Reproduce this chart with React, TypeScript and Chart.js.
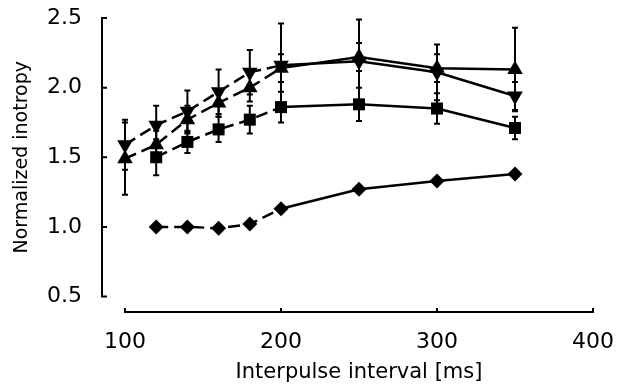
import React, { useEffect, useRef } from "react";
import { Chart, registerables } from "chart.js";

Chart.register(...registerables);

// Interpulse intervals (ms)
const intervals = [100, 120, 140, 160, 180, 200, 250, 300, 350];
const shortIntervals = [120, 140, 160, 180, 200, 250, 300, 350];

// Normalized inotropy, one array per marker type
const upTriangle = [1.49, 1.59, 1.77, 1.89, 2.0, 2.14, 2.22, 2.14, 2.13];
const upTriangleErr = [0.26, 0.1, 0.1, 0.1, 0.1, 0.1, 0.1, 0.1, 0.3];

const downTriangle = [1.59, 1.73, 1.83, 1.97, 2.11, 2.16, 2.19, 2.11, 1.94];
const downTriangleErr = [0.18, 0.14, 0.15, 0.16, 0.16, 0.3, 0.3, 0.2, 0.1];

const square = [1.5, 1.61, 1.7, 1.77, 1.86, 1.88, 1.85, 1.71];
const squareErr = [0.13, 0.08, 0.09, 0.1, 0.11, 0.12, 0.11, 0.08];

const diamond = [1.0, 1.0, 0.99, 1.02, 1.13, 1.27, 1.33, 1.38];

const xTicks = [100, 200, 300, 400];
const yTicks = [0.5, 1.0, 1.5, 2.0, 2.5];

const FONT = "'DejaVu Sans', sans-serif";

function pts(xs: number[], ys: number[]) {
  return xs.map((x, i) => ({ x, y: ys[i] }));
}

// Vertical error bars with small caps, drawn beneath the markers
const errorBars = {
  id: "errorBars",
  beforeDatasetsDraw(chart: any) {
    const { ctx, scales } = chart;
    const xs = scales.x;
    const ys = scales.y;
    ctx.save();
    ctx.strokeStyle = "#000";
    ctx.lineWidth = 2;
    chart.data.datasets.forEach((ds: any) => {
      if (!ds.errors) return;
      ds.data.forEach((p: any, i: number) => {
        const e = ds.errors[i];
        if (!e) return;
        const px = xs.getPixelForValue(p.x);
        const top = ys.getPixelForValue(p.y + e);
        const bot = ys.getPixelForValue(p.y - e);
        ctx.beginPath();
        ctx.moveTo(px, top);
        ctx.lineTo(px, bot);
        ctx.moveTo(px - 3, top);
        ctx.lineTo(px + 3, top);
        ctx.moveTo(px - 3, bot);
        ctx.lineTo(px + 3, bot);
        ctx.stroke();
      });
    });
    ctx.restore();
  },
};

// Detached axis lines with inward tick marks
const axisLines = {
  id: "axisLines",
  afterDraw(chart: any) {
    const { ctx, scales } = chart;
    const xs = scales.x;
    const ys = scales.y;
    const axisX = xs.getPixelForValue(100) - 23;
    const axisY = ys.getPixelForValue(0.5) + 15.5;
    ctx.save();
    ctx.strokeStyle = "#000";
    ctx.lineWidth = 2;
    ctx.lineCap = "butt";
    // y axis
    const yTop = ys.getPixelForValue(2.5);
    const yBot = ys.getPixelForValue(0.5);
    ctx.beginPath();
    ctx.moveTo(axisX + 5, yTop);
    ctx.lineTo(axisX, yTop);
    ctx.lineTo(axisX, yBot);
    ctx.lineTo(axisX + 5, yBot);
    yTicks.slice(1, -1).forEach((v) => {
      const py = ys.getPixelForValue(v);
      ctx.moveTo(axisX, py);
      ctx.lineTo(axisX + 5, py);
    });
    ctx.stroke();
    // x axis
    const xL = xs.getPixelForValue(100);
    const xR = xs.getPixelForValue(400);
    ctx.beginPath();
    ctx.moveTo(xL, axisY - 4);
    ctx.lineTo(xL, axisY);
    ctx.lineTo(xR, axisY);
    ctx.lineTo(xR, axisY - 4);
    xTicks.slice(1, -1).forEach((v) => {
      const px = xs.getPixelForValue(v);
      ctx.moveTo(px, axisY);
      ctx.lineTo(px, axisY - 4);
    });
    ctx.stroke();
    ctx.restore();
  },
};

const dashedEarly = {
  borderDash: (c: any) => (c.p1.parsed.x <= 200 ? [12, 6] : undefined),
};

export default function App() {
  const ref = useRef<HTMLCanvasElement>(null);

  useEffect(() => {
    const common = {
      borderColor: "#000",
      backgroundColor: "#000",
      borderWidth: 2.5,
      pointBackgroundColor: "#000",
      pointBorderColor: "#000",
      pointBorderWidth: 0,
      showLine: true,
      clip: false as any,
      segment: dashedEarly,
    };
    const chart = new Chart(ref.current!, {
      type: "line",
      data: {
        datasets: [
          {
            ...common,
            label: "down",
            data: pts(intervals, downTriangle),
            errors: downTriangleErr,
            pointStyle: "triangle",
            rotation: 180,
            pointRadius: 9,
          } as any,
          {
            ...common,
            label: "up",
            data: pts(intervals, upTriangle),
            errors: upTriangleErr,
            pointStyle: "triangle",
            pointRadius: 9,
          } as any,
          {
            ...common,
            label: "square",
            data: pts(shortIntervals, square),
            errors: squareErr,
            pointStyle: "rect",
            pointRadius: 8.5,
          } as any,
          {
            ...common,
            label: "diamond",
            data: pts(shortIntervals, diamond),
            pointStyle: "rectRot",
            pointRadius: 7.5,
          } as any,
        ],
      },
      options: {
        animation: false,
        responsive: false,
        layout: { padding: { top: 18, right: 26, left: 0, bottom: 0 } },
        plugins: {
          legend: { display: false },
          tooltip: { enabled: false },
        },
        scales: {
          x: {
            type: "linear",
            min: 100,
            max: 400,
            grid: { display: false, drawTicks: false },
            border: { display: false },
            afterBuildTicks: (s: any) => {
              s.ticks = xTicks.map((value) => ({ value }));
            },
            afterFit: (s: any) => {
              s.height = 91.5;
              s.paddingLeft = 0;
              s.paddingRight = 0;
            },
            ticks: {
              padding: 33,
              color: "#000",
              font: { family: FONT, size: 22 },
              callback: (v: any) => String(v),
            },
            title: {
              display: true,
              text: "Interpulse interval [ms]",
              color: "#000",
              font: { family: FONT, size: 21 },
              padding: { top: 0, bottom: 3 },
            },
          },
          y: {
            type: "linear",
            min: 0.5,
            max: 2.5,
            grid: { display: false, drawTicks: false },
            border: { display: false },
            afterBuildTicks: (s: any) => {
              s.ticks = yTicks.map((value) => ({ value }));
            },
            afterFit: (s: any) => {
              s.width = 125;
              s.paddingTop = 0;
              s.paddingBottom = 0;
            },
            ticks: {
              padding: 43,
              color: "#000",
              font: { family: FONT, size: 22 },
              callback: (v: any) => Number(v).toFixed(1),
            },
            title: {
              display: true,
              text: "Normalized inotropy",
              color: "#000",
              font: { family: FONT, size: 19 },
              padding: { top: 11, bottom: 0 },
            },
          },
        },
      },
      plugins: [errorBars, axisLines],
    });
    return () => chart.destroy();
  }, []);

  return (
    <div style={{ position: "absolute", left: 0, top: 0, width: 619, height: 388, background: "#fff" }}>
      <canvas ref={ref} width={619} height={388} style={{ display: "block" }} />
    </div>
  );
}
